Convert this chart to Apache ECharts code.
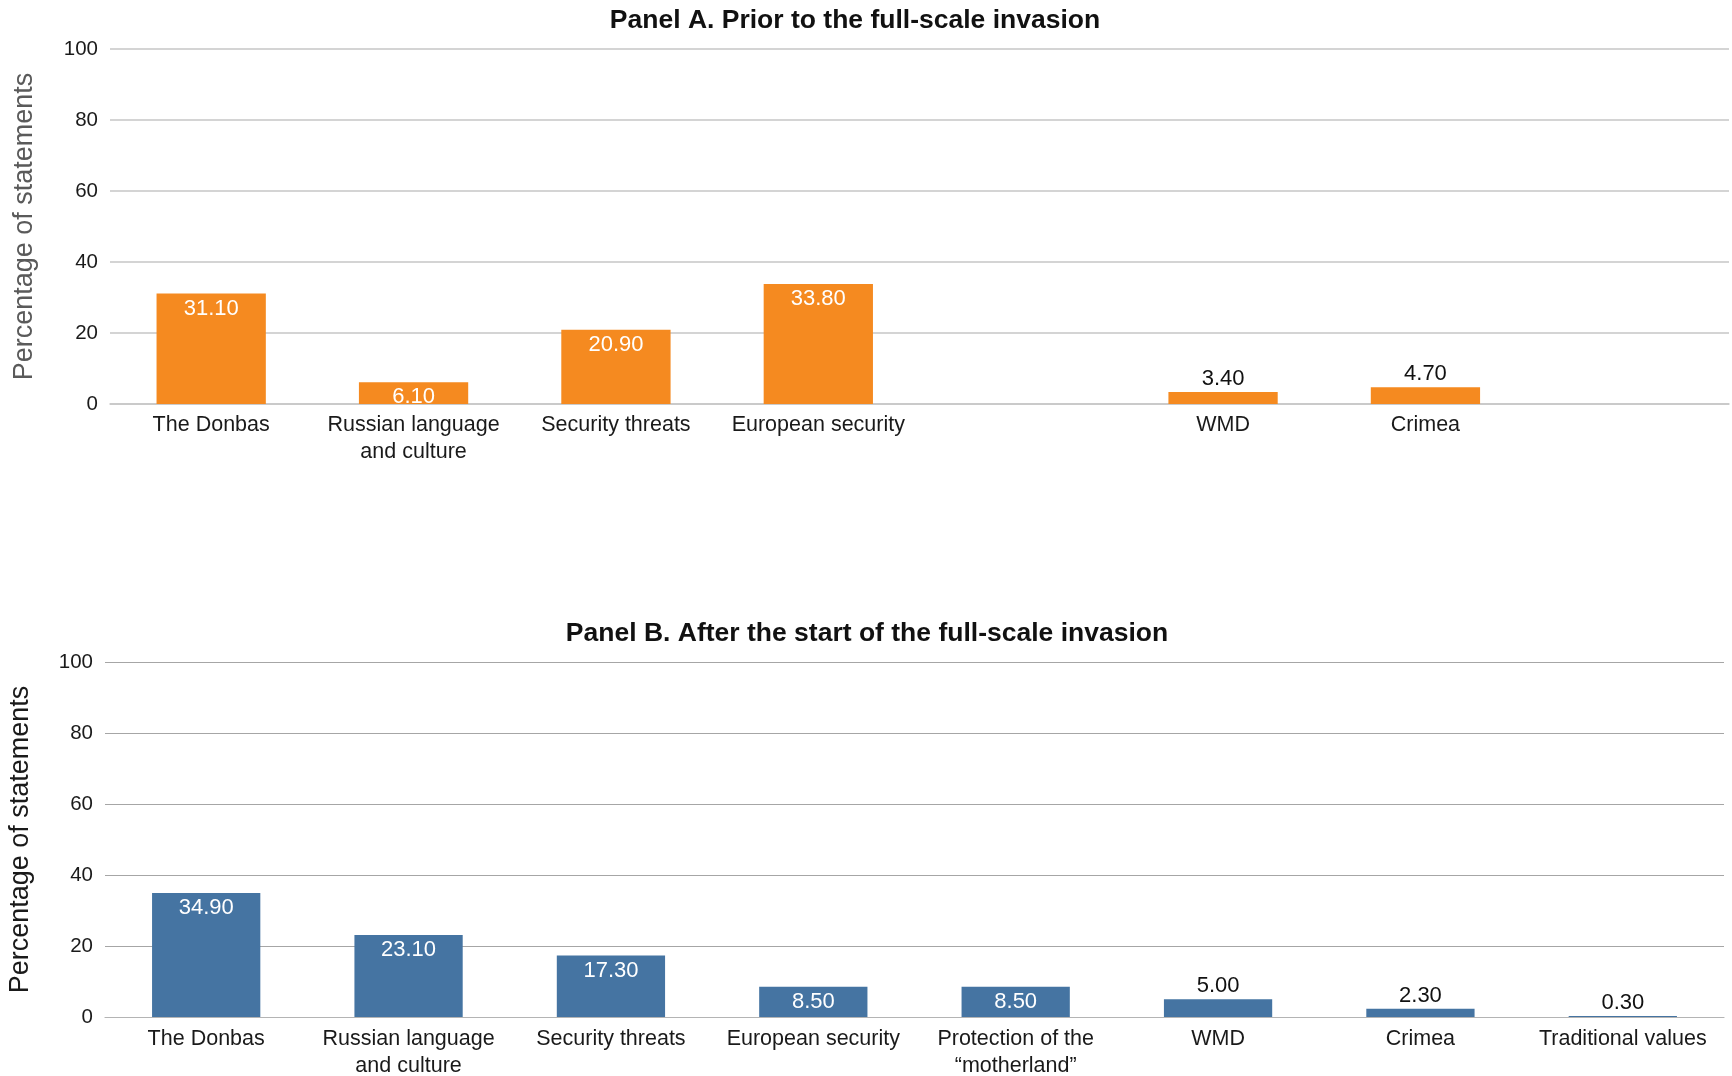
<!DOCTYPE html>
<html>
<head>
<meta charset="utf-8">
<script src="https://cdn.jsdelivr.net/npm/echarts@6/dist/echarts.min.js"></script>
<style>
  html, body { margin: 0; padding: 0; background: #ffffff; }
  #chart { width: 1732px; height: 1076px; }
</style>
</head>
<body>
<div id="chart"></div>
<script>
// Share of statements by justification theme, before and after the full-scale invasion
const categoriesA = ['The Donbas', 'Russian language\nand culture', 'Security threats', 'European security', '', 'WMD', 'Crimea', ''];
const valuesA = [31.1, 6.1, 20.9, 33.8, null, 3.4, 4.7, null];

const categoriesB = ['The Donbas', 'Russian language\nand culture', 'Security threats', 'European security', 'Protection of the\n\u201cmotherland\u201d', 'WMD', 'Crimea', 'Traditional values'];
const valuesB = [34.9, 23.1, 17.3, 8.5, 8.5, 5.0, 2.3, 0.3];

const yTicks = [0, 20, 40, 60, 80, 100];

const titleA = 'Panel A. Prior to the full-scale invasion';
const titleB = 'Panel B. After the start of the full-scale invasion';
const yName = 'Percentage of statements';

const FONT = '"Liberation Sans", Arial, Helvetica, sans-serif';

// values large enough get a white label inside the bar top, the rest sit above it
function barData(values) {
  return values.map(v => {
    if (v == null) return null;
    const inside = v >= 6;
    return {
      value: v,
      label: inside
        ? { position: 'insideTop', distance: 4, color: '#ffffff' }
        : { position: 'top', distance: 2, color: '#111111' }
    };
  });
}

function xAxis(gridIndex, cats, margin) {
  return {
    type: 'category',
    gridIndex: gridIndex,
    data: cats,
    axisTick: { show: false },
    axisLine: { show: true, lineStyle: { color: gridIndex === 0 ? '#c6c6c6' : '#b4b4b4', width: gridIndex === 0 ? 1.5 : 1.2 } },
    axisLabel: {
      interval: 0, margin: margin, color: '#1a1a1a',
      fontFamily: FONT, fontSize: 21.5, lineHeight: 26.5
    }
  };
}

function yAxis(gridIndex, nameColor, nameGap, gridColor, gridWidth) {
  return {
    type: 'value',
    gridIndex: gridIndex,
    min: yTicks[0],
    max: yTicks[yTicks.length - 1],
    interval: yTicks[1] - yTicks[0],
    name: yName,
    nameLocation: 'middle',
    nameGap: nameGap,
    nameTextStyle: { color: nameColor, fontFamily: FONT, fontSize: 27 },
    axisLine: { show: false },
    axisTick: { show: false },
    axisLabel: { margin: 12, color: '#1a1a1a', fontFamily: FONT, fontSize: 20.5 },
    splitLine: { lineStyle: { color: gridColor, width: gridWidth } }
  };
}

const chart = echarts.init(document.getElementById('chart'), null, { renderer: 'canvas' });

chart.setOption({
  animation: false,
  backgroundColor: '#ffffff',
  graphic: [
    {
      type: 'text', x: 855, y: 21,
      style: { text: titleA, textAlign: 'center', textVerticalAlign: 'middle',
               font: 'bold 26.5px ' + FONT, fill: '#111111' }
    },
    {
      type: 'text', x: 867, y: 634,
      style: { text: titleB, textAlign: 'center', textVerticalAlign: 'middle',
               font: 'bold 26.5px ' + FONT, fill: '#111111' }
    }
  ],
  grid: [
    { left: 110, right: 3, top: 49, bottom: 672, outerBoundsMode: 'none' },
    { left: 105, right: 8, top: 662, bottom: 59, outerBoundsMode: 'none' }
  ],
  xAxis: [xAxis(0, categoriesA, 8), xAxis(1, categoriesB, 9)],
  yAxis: [
    yAxis(0, '#5a5a5a', 72, '#c6c6c6', 1.5),
    yAxis(1, '#1a1a1a', 71, '#a6a6a6', 1.2)
  ],
  series: [
    {
      type: 'bar', xAxisIndex: 0, yAxisIndex: 0,
      data: barData(valuesA),
      barWidth: '54%',
      itemStyle: { color: '#f58a20' },
      label: { show: true, fontFamily: FONT, fontSize: 22, formatter: p => p.value.toFixed(2) }
    },
    {
      type: 'bar', xAxisIndex: 1, yAxisIndex: 1,
      data: barData(valuesB),
      barWidth: '53.5%',
      itemStyle: { color: '#4574a2' },
      label: { show: true, fontFamily: FONT, fontSize: 22, formatter: p => p.value.toFixed(2) }
    }
  ]
});
</script>
</body>
</html>
